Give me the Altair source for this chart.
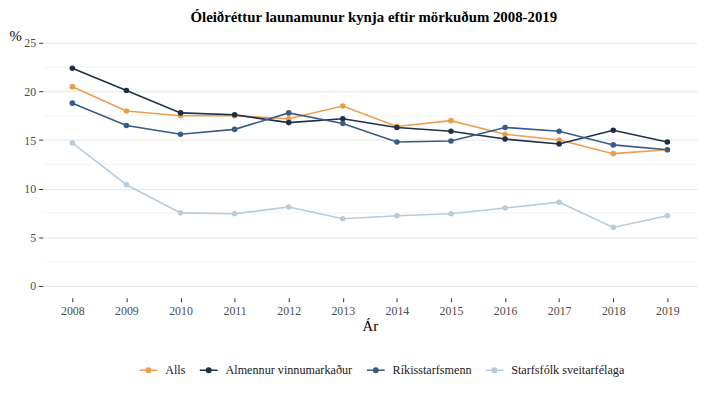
import altair as alt
import pandas as pd

years = list(range(2008, 2020))
series_names = ["Alls", "Almennur vinnumarkaður", "Ríkisstarfsmenn", "Starfsfólk sveitarfélaga"]
alls = [20.5, 18.0, 17.5, 17.5, 17.2, 18.5, 16.4, 17.0, 15.6, 15.0, 13.6, 14.0]
almennur = [22.4, 20.1, 17.8, 17.6, 16.8, 17.2, 16.3, 15.9, 15.1, 14.6, 16.0, 14.8]
rikis = [18.8, 16.5, 15.6, 16.1, 17.8, 16.7, 14.8, 14.9, 16.3, 15.9, 14.5, 14.0]
starfs = [14.7, 10.4, 7.5, 7.4, 8.1, 6.9, 7.2, 7.4, 8.0, 8.6, 6.0, 7.2]
colors = ["#EE9D4D", "#1E3049", "#385C83", "#B8CBDD"]
major_ticks = [0, 5, 10, 15, 20, 25]
minor_ticks = [2.5, 7.5, 12.5, 17.5, 22.5]

rows = []
for name, vals in zip(series_names, [alls, almennur, rikis, starfs]):
    for y, v in zip(years, vals):
        rows.append({"year": y, "value": v, "series": name})
df = pd.DataFrame(rows)
minor_df = pd.DataFrame({"value": minor_ticks})

FONT = "Liberation Serif"
W, H = 662, 270
xscale = alt.Scale(domain=[2007.45, 2019.55], nice=False, zero=False)
yscale = alt.Scale(domain=[-1.25, 26.25], nice=False, zero=False)
cscale = alt.Scale(domain=series_names, range=colors)

sym_path = "M-1,0H1M-0.25,0A0.25,0.25,0,1,0,0.25,0A0.25,0.25,0,1,0,-0.25,0Z"

legend = alt.Legend(
    orient="none",
    direction="horizontal",
    legendX=97,
    legendY=333,
    symbolType=sym_path,
    symbolSize=324,
    symbolStrokeWidth=1.6,
    labelFont=FONT,
    labelFontSize=12.3,
    labelColor="#1a1a1a",
    labelOffset=7,
    columnPadding=10,
)

yaxis = alt.Axis(values=major_ticks, grid=True, ticks=True)
xaxis = alt.Axis(values=years, format="d", grid=False, ticks=True)

minor = alt.Chart(minor_df).mark_rule(color="#F3F3F3", strokeWidth=1).encode(
    y=alt.Y("value:Q", scale=yscale, title="%", axis=yaxis),
    x=alt.value(0),
    x2=alt.value(W),
)

lines = alt.Chart(df).mark_line(strokeWidth=1.6).encode(
    x=alt.X("year:Q", scale=xscale, title="Ár", axis=xaxis),
    y=alt.Y("value:Q", scale=yscale, title="%", axis=yaxis),
    color=alt.Color("series:N", scale=cscale, title=None, legend=legend),
)

points = alt.Chart(df).mark_point(filled=True, size=32, opacity=1).encode(
    x=alt.X("year:Q", scale=xscale, title="Ár", axis=xaxis),
    y=alt.Y("value:Q", scale=yscale, title="%", axis=yaxis),
    color=alt.Color("series:N", scale=cscale, title=None, legend=legend),
)

chart = alt.layer(minor, lines, points).properties(
    width=W,
    height=H,
    autosize="none",
    background="white",
    padding={"left": 35, "top": 21, "right": 8, "bottom": 78},
    title=alt.TitleParams(
        "Óleiðréttur launamunur kynja eftir mörkuðum 2008-2019",
        font=FONT, fontSize=15, fontWeight="bold", color="#000000",
        anchor="middle", offset=4, dx=4,
    ),
).configure_view(stroke=None).configure_axis(
    domain=False, ticks=True, tickColor="#333333", tickSize=4, tickWidth=1,
    gridColor="#E6E6E6", gridWidth=1,
    labelFont=FONT, labelFontSize=12, labelColor="#4D4D4D",
    titleFont=FONT, titleFontSize=15, titleFontWeight="normal", titleColor="#000000",
).configure_axisX(
    labelPadding=4, titlePadding=2,
).configure_axisY(
    labelPadding=3, titleAngle=0, titleAlign="left", titleBaseline="middle",
    titleX=-34, titleY=5,
)

chart.save("out.html", embed_options={"renderer": "svg", "actions": False})
